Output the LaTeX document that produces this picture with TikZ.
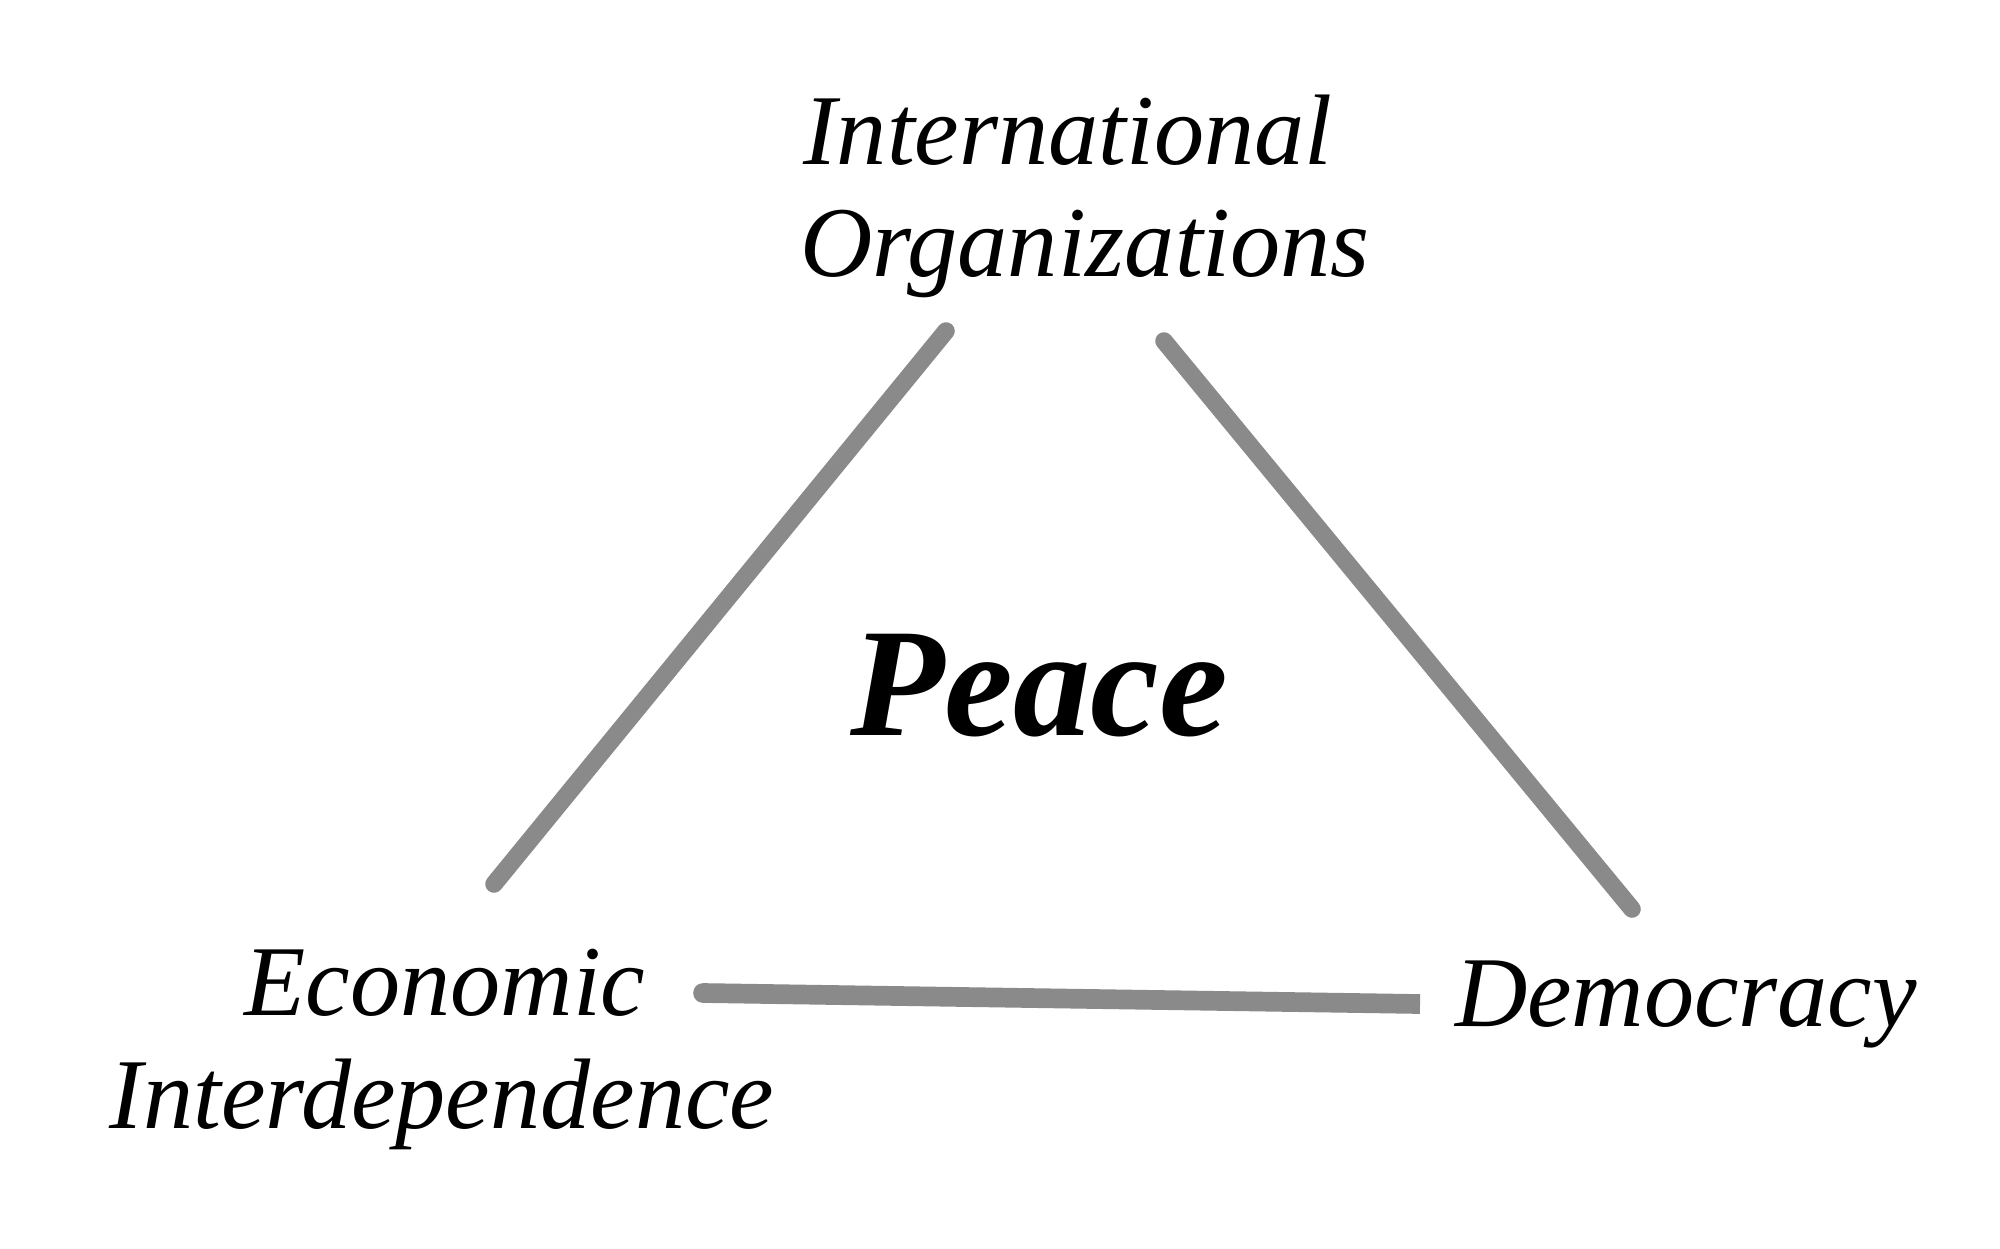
\documentclass[tikz,border=0pt]{standalone}
\usepackage{fontspec}
\setmainfont{Liberation Serif}
\tikzset{
  lbl/.style={font=\fontsize{28.5}{32}\selectfont\itshape, inner sep=0pt, anchor=base},
  big/.style={font=\fontsize{44}{48}\selectfont\bfseries\itshape, inner sep=0pt, anchor=base},
  conn/.style={draw=linegray, line width=5pt, line cap=round},
}
\definecolor{linegray}{HTML}{8A8A8A}
\begin{document}
\begin{tikzpicture}[x=0.01cm,y=-0.01cm]
\useasboundingbox[fill=white] (0,0) rectangle (2000,1248);
% labels
\node[lbl] (io1) at (1068,164) {International};
\node[lbl] (io2) at (1085,276) {Organizations};
\node[big] (peace) at (1039,735) {Peace};
\node[lbl] (ei1) at (445,1015) {Economic};
\node[lbl] (ei2) at (442,1128) {Interdependence};
\node[lbl] (dem) at (1686,1026) {Democracy};
% line endpoints
\coordinate (a1) at (946,331);
\coordinate (a2) at (494,884);
\coordinate (b1) at (1164,341);
\coordinate (b2) at (1632,909);
\coordinate (c1) at (703,993);
\coordinate (c2) at (1420,1004);
\draw[conn] (a1) -- (a2);
\draw[conn] (b1) -- (b2);
\draw[conn, line width=5.6pt, line cap=butt] (c1) -- (c2);
\fill[linegray] (c1) circle (2.8pt);
\end{tikzpicture}
\end{document}
